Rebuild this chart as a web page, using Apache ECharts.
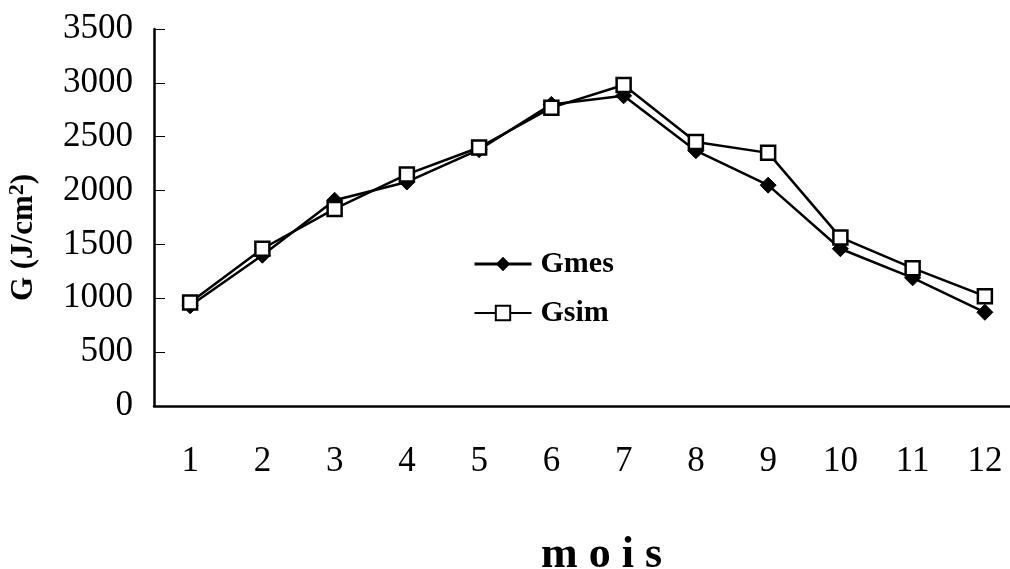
<!DOCTYPE html>
<html>
<head>
<meta charset="utf-8">
<script src="https://cdn.jsdelivr.net/npm/echarts@6/dist/echarts.min.js"></script>
<style>
html,body{margin:0;padding:0;background:#fff;}
#chart{width:1010px;height:569px;}
</style>
</head>
<body>
<div id="chart"></div>
<script>
var months = ['1','2','3','4','5','6','7','8','9','10','11','12'];
var gmes = [930, 1400, 1910, 2080, 2380, 2800, 2880, 2370, 2050, 1460, 1190, 870];
var gsim = [960, 1460, 1830, 2150, 2400, 2770, 2980, 2450, 2350, 1565, 1280, 1020];
var yTicks = [0, 500, 1000, 1500, 2000, 2500, 3000, 3500];

var FONT = '"Liberation Serif", "Times New Roman", serif';
var chart = echarts.init(document.getElementById('chart'), null, {renderer: 'canvas'});
chart.setOption({
  backgroundColor: '#ffffff',
  animation: false,
  grid: {left: 154, top: 29, right: -11, bottom: 163, containLabel: false, outerBoundsMode: 'none'},
  legend: {
    left: 468, top: 244, orient: 'vertical', padding: 5,
    itemWidth: 57, itemHeight: 18, itemGap: 19,
    textStyle: {fontFamily: FONT, fontSize: 30, fontWeight: 'bold', color: '#000', padding: [0, 0, 0, 4]},
    data: [{name: 'Gmes', lineStyle: {width: 3}}, {name: 'Gsim', lineStyle: {width: 2}}]
  },
  xAxis: {
    type: 'category', data: months, boundaryGap: true,
    axisLine: {lineStyle: {color: '#000', width: 2.5}},
    axisTick: {inside: true, length: 12, lineStyle: {color: '#000', width: 1}},
    axisLabel: {fontFamily: FONT, fontSize: 35, color: '#000', margin: 38},
    name: 'm o i s', nameLocation: 'middle', nameGap: 128,
    nameTextStyle: {fontFamily: FONT, fontSize: 44, fontWeight: 'bold', color: '#000', padding: [0, 0, 0, 28]}
  },
  yAxis: {
    type: 'value', min: yTicks[0], max: yTicks[yTicks.length-1], interval: 500,
    splitLine: {show: false},
    axisLine: {show: true, lineStyle: {color: '#000', width: 2.5}},
    axisTick: {show: true, inside: true, length: 11, lineStyle: {color: '#000', width: 1}},
    axisLabel: {fontFamily: FONT, fontSize: 35, color: '#000', margin: 21,
      formatter: function (v) { return String(v); }},
    name: 'G (J/cm{sup|2})', nameLocation: 'middle', nameGap: 112, nameRotate: 90,
    nameTextStyle: {fontFamily: FONT, fontSize: 31, fontWeight: 'bold', color: '#000', padding: [0, 40, 0, 0],
      rich: {sup: {fontFamily: FONT, fontSize: 22, fontWeight: 'bold', color: '#000', verticalAlign: 'top', padding: [0, 0, 14, 0]}}}
  },
  series: [
    {
      name: 'Gmes', type: 'line', data: gmes,
      symbol: 'diamond', symbolSize: 16,
      lineStyle: {color: '#000', width: 2.5},
      itemStyle: {color: '#000', borderColor: '#000'}
    },
    {
      name: 'Gsim', type: 'line', data: gsim,
      symbol: 'rect', symbolSize: 14,
      lineStyle: {color: '#000', width: 2.5},
      itemStyle: {color: '#fff', borderColor: '#000', borderWidth: 2.5}
    }
  ]
});
</script>
</body>
</html>
